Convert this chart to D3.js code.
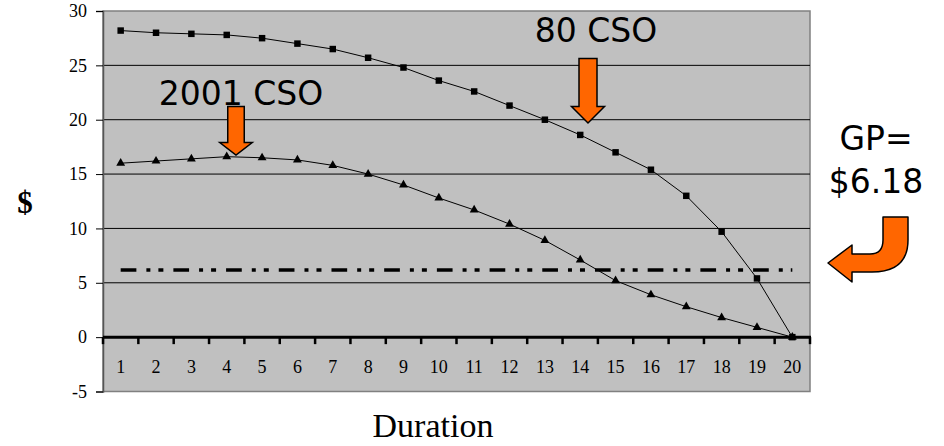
<!DOCTYPE html>
<html>
<head>
<meta charset="utf-8">
<script src="https://cdn.jsdelivr.net/npm/d3@7"></script>
<style>
  html, body { margin: 0; padding: 0; background: #fff; }
  svg { display: block; }
</style>
</head>
<body>
<svg id="chart" width="944" height="446"></svg>
<script>
// Policy durations and reserve values per duration
const durations = d3.range(1, 21);
const cso80 = [28.2, 28.0, 27.9, 27.8, 27.5, 27.0, 26.5, 25.7, 24.8, 23.6,
               22.6, 21.3, 20.0, 18.6, 17.0, 15.4, 13.0, 9.7, 5.4, 0];
const cso2001 = [16.0, 16.2, 16.4, 16.6, 16.5, 16.3, 15.8, 15.0, 14.0, 12.8,
                 11.7, 10.4, 8.9, 7.1, 5.2, 3.9, 2.8, 1.8, 0.9, 0];
const grossPremium = 6.18;
const yTicks = [-5, 0, 5, 10, 15, 20, 25, 30];

const svg = d3.select("#chart");
const plot = { left: 103, right: 810, top: 11, bottom: 391.5 };
const serif = "'Liberation Serif', 'Times New Roman', serif";

const x = d3.scaleBand().domain(durations).range([plot.left, plot.right]);
const y = d3.scaleLinear().domain([-5, 30]).range([plot.bottom, plot.top]);
const cx = d => x(d) + x.bandwidth() / 2;

// plot area
svg.append("rect")
  .attr("x", plot.left).attr("y", plot.top)
  .attr("width", plot.right - plot.left).attr("height", plot.bottom - plot.top)
  .attr("fill", "#c0c0c0").attr("stroke", "#808080").attr("stroke-width", 1.5);

// horizontal gridlines
svg.append("g").selectAll("line")
  .data(yTicks.filter(v => v > 0 && v < 30))
  .join("line")
  .attr("x1", plot.left).attr("x2", plot.right)
  .attr("y1", d => y(d)).attr("y2", d => y(d))
  .attr("stroke", "#000").attr("stroke-width", 1);

// y axis
const yAxis = svg.append("g")
  .attr("transform", `translate(${plot.left},0)`)
  .call(d3.axisLeft(y).tickValues(yTicks).tickSize(7).tickPadding(9).tickFormat(d => String(d)));
yAxis.select(".domain").attr("stroke", "#555").attr("stroke-width", 1.5);
yAxis.selectAll(".tick line").attr("stroke", "#000");
yAxis.selectAll("text")
  .attr("font-family", serif)
  .attr("font-size", 18).attr("fill", "#000");

// x axis on the zero line, ticks on category boundaries
const y0 = y(0);
svg.append("line")
  .attr("x1", plot.left).attr("x2", plot.right + 1)
  .attr("y1", y0).attr("y2", y0)
  .attr("stroke", "#000").attr("stroke-width", 3);
svg.append("g").selectAll("line")
  .data(d3.range(0, 21))
  .join("line")
  .attr("x1", i => plot.left + i * x.bandwidth())
  .attr("x2", i => plot.left + i * x.bandwidth())
  .attr("y1", y0).attr("y2", y0 + 7)
  .attr("stroke", "#000").attr("stroke-width", 2.5);
svg.append("g").selectAll("text")
  .data(durations)
  .join("text")
  .attr("x", d => cx(d)).attr("y", y0 + 36)
  .attr("text-anchor", "middle")
  .attr("font-family", serif)
  .attr("font-size", 18)
  .text(d => d);

// gross premium reference line
svg.append("line")
  .attr("x1", cx(1)).attr("x2", cx(20))
  .attr("y1", y(grossPremium)).attr("y2", y(grossPremium))
  .attr("stroke", "#000").attr("stroke-width", 3.5)
  .attr("stroke-dasharray", "15.7 10 4 8 5 10");

// series lines
const line = d3.line().x((v, i) => cx(durations[i])).y(v => y(v));
svg.append("path").datum(cso80).attr("d", line)
  .attr("fill", "none").attr("stroke", "#000").attr("stroke-width", 1);
svg.append("path").datum(cso2001).attr("d", line)
  .attr("fill", "none").attr("stroke", "#000").attr("stroke-width", 1);

// markers
svg.append("g").selectAll("path")
  .data(cso80)
  .join("path")
  .attr("transform", (v, i) => `translate(${cx(durations[i])},${y(v)})`)
  .attr("d", d3.symbol(d3.symbolSquare, 42))
  .attr("fill", "#000");
svg.append("g").selectAll("path")
  .data(cso2001)
  .join("path")
  .attr("transform", (v, i) => `translate(${cx(durations[i])},${y(v)})`)
  .attr("d", d3.symbol(d3.symbolTriangle, 34))
  .attr("fill", "#000");

// axis titles
svg.append("text")
  .attr("x", 25).attr("y", 213)
  .attr("text-anchor", "middle")
  .attr("font-family", serif)
  .attr("font-weight", "bold").attr("font-size", 31)
  .text("$");
svg.append("text")
  .attr("x", 433).attr("y", 437)
  .attr("text-anchor", "middle")
  .attr("font-family", serif)
  .attr("font-size", 34)
  .text("Duration");

// annotations
const annoFont = "'DejaVu Sans', Verdana, sans-serif";
svg.append("text").attr("x", 596).attr("y", 42)
  .attr("text-anchor", "middle").attr("font-family", annoFont).attr("font-size", 33)
  .text("80 CSO");
svg.append("text").attr("x", 241).attr("y", 105)
  .attr("text-anchor", "middle").attr("font-family", annoFont).attr("font-size", 33)
  .text("2001 CSO");
svg.append("text").attr("x", 876).attr("y", 150)
  .attr("text-anchor", "middle").attr("font-family", annoFont).attr("font-size", 33)
  .text("GP=");
svg.append("text").attr("x", 876).attr("y", 193)
  .attr("text-anchor", "middle").attr("font-family", annoFont).attr("font-size", 33)
  .text("$" + grossPremium.toFixed(2));

// down arrows pointing at each curve
function downArrow(cxp, top, tip, shaftW, headW, headH) {
  const p = d3.path();
  p.moveTo(cxp - shaftW / 2, top);
  p.lineTo(cxp + shaftW / 2, top);
  p.lineTo(cxp + shaftW / 2, tip - headH);
  p.lineTo(cxp + headW / 2, tip - headH);
  p.lineTo(cxp, tip);
  p.lineTo(cxp - headW / 2, tip - headH);
  p.lineTo(cxp - shaftW / 2, tip - headH);
  p.closePath();
  return p.toString();
}
svg.append("path")
  .attr("d", downArrow(588, 58.5, 123, 18, 33, 16.5))
  .attr("fill", "#ff6600").attr("stroke", "#000").attr("stroke-width", 1.5)
  .attr("stroke-linejoin", "miter");
svg.append("path")
  .attr("d", downArrow(236, 106.5, 155, 16.5, 32.5, 12.5))
  .attr("fill", "#ff6600").attr("stroke", "#000").attr("stroke-width", 1.5);

// curved arrow pointing to the premium line
svg.append("path")
  .attr("d", "M883,217 L908,217 L908,240 Q908,272 872,272 L852,272 L852,282 L828,263 L852,245 L852,254 L870,254 Q883,254 883,240 Z")
  .attr("fill", "#ff6600").attr("stroke", "#000").attr("stroke-width", 1.5)
  .attr("stroke-linejoin", "round");
</script>
</body>
</html>
